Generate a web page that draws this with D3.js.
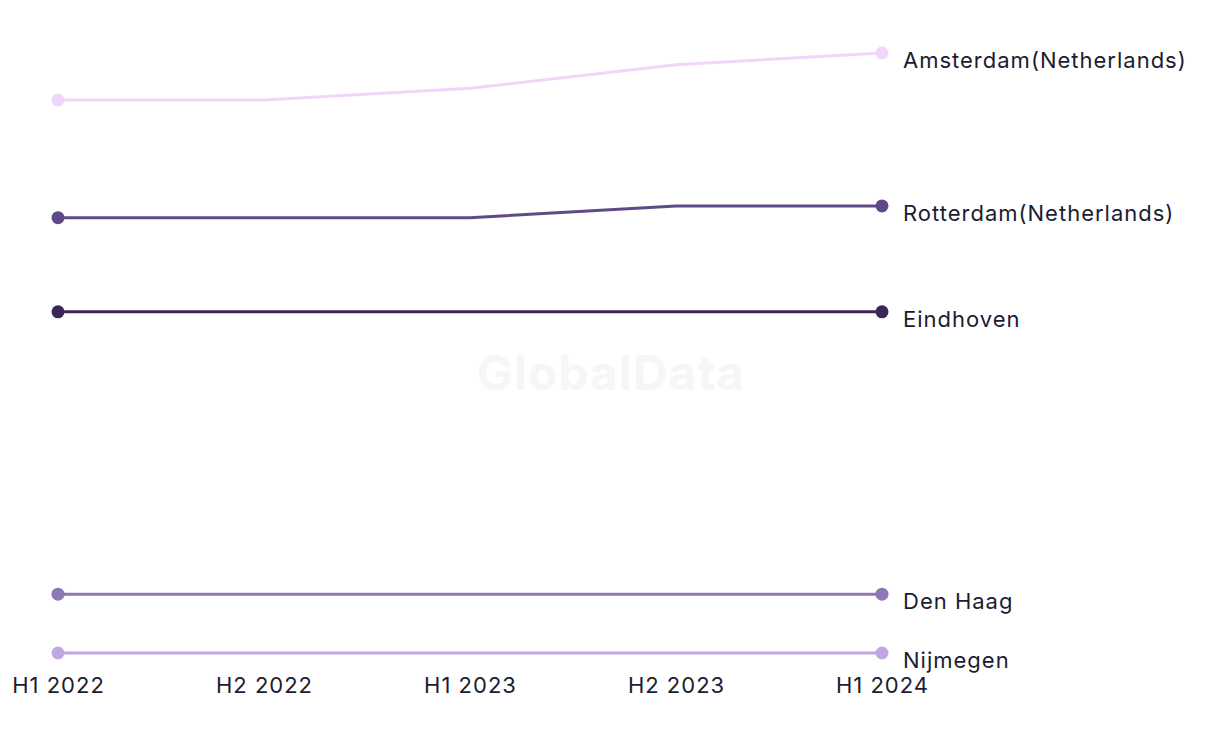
<!DOCTYPE html>
<html>
<head>
<meta charset="utf-8">
<script src="https://cdn.jsdelivr.net/npm/d3@7"></script>
<style>
  html, body { margin: 0; padding: 0; background: #ffffff; }
  svg { display: block; }
  text { font-family: Inter, "Noto Sans", sans-serif; }
</style>
</head>
<body>
<svg id="chart" width="1220" height="744"></svg>
<script>
const periods = ["H1 2022", "H2 2022", "H1 2023", "H2 2023", "H1 2024"];
const seriesNames = ["Amsterdam(Netherlands)", "Rotterdam(Netherlands)", "Eindhoven", "Den Haag", "Nijmegen"];
const amsterdam = [48, 48, 49, 51, 52];
const rotterdam = [38, 38, 38, 39, 39];
const eindhoven = [30, 30, 30, 30, 30];
const denHaag = [6, 6, 6, 6, 6];
const nijmegen = [1, 1, 1, 1, 1];
const colors = ["#f0d6fb", "#5f4a87", "#3a2659", "#8e78b5", "#c0a6e2"];

const seriesValues = [amsterdam, rotterdam, eindhoven, denHaag, nijmegen];
const series = seriesNames.map((name, i) => ({
  name, color: colors[i],
  values: seriesValues[i].map((v, j) => ({ period: periods[j], value: v }))
}));

const svg = d3.select("#chart");

const x = d3.scalePoint().domain(periods).range([58, 882]);
const allVals = seriesValues.flat();
const y = d3.scaleLinear().domain([d3.min(allVals), d3.max(allVals)]).range([653, 53]);

// watermark
svg.append("text")
  .attr("x", 611).attr("y", 390)
  .attr("text-anchor", "middle")
  .attr("font-size", 48).attr("font-weight", 700)
  .attr("letter-spacing", 1)
  .attr("fill", "#f6f6f6")
  .text("GlobalData");

// x axis
const xAxis = d3.axisBottom(x).tickSize(0).tickPadding(0);
const gx = svg.append("g").attr("transform", "translate(0,677)").call(xAxis);
gx.select(".domain").remove();
gx.selectAll("text")
  .attr("font-size", 22)
  .attr("font-family", "Inter, 'Noto Sans', sans-serif")
  .attr("letter-spacing", 1)
  .attr("fill", "#1c1c30")
  .attr("dy", "0.71em");

const line = d3.line().x(d => x(d.period)).y(d => y(d.value)).curve(d3.curveLinear);

const g = svg.append("g");
series.slice().reverse().forEach(s => {
  g.append("path")
    .attr("d", line(s.values))
    .attr("fill", "none")
    .attr("stroke", s.color)
    .attr("stroke-width", 3);
  const ends = [s.values[0], s.values[s.values.length - 1]];
  g.selectAll(null).data(ends).enter().append("circle")
    .attr("cx", d => x(d.period))
    .attr("cy", d => y(d.value))
    .attr("r", 6.5)
    .attr("fill", s.color);
  const last = s.values[s.values.length - 1];
  g.append("text")
    .attr("x", x(last.period) + 21)
    .attr("y", y(last.value) + 7)
    .attr("dy", "0.35em")
    .attr("font-size", 22)
    .attr("letter-spacing", 1)
    .attr("fill", "#1c1c30")
    .text(s.name);
});
</script>
</body>
</html>
